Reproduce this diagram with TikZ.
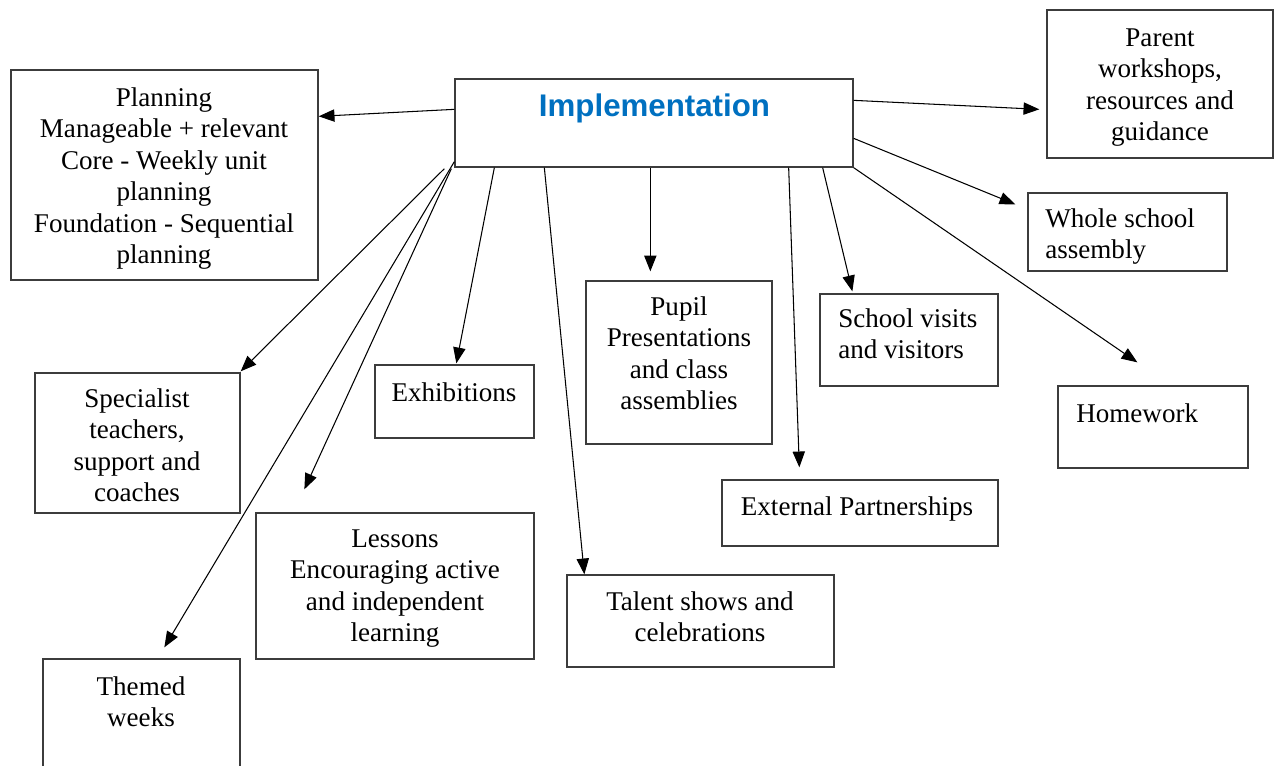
\documentclass[tikz,border=0pt]{standalone}
\usepackage{fontspec}
\setmainfont{Liberation Serif}
\newfontfamily\headsans{Liberation Sans}
\usetikzlibrary{arrows.meta,fit,calc}
\definecolor{headblue}{RGB}{0,112,192}
\definecolor{edgegray}{RGB}{60,60,60}
\begin{document}
\begin{tikzpicture}[x=0.02cm,y=-0.02cm,
  box/.style={draw=edgegray,line width=0.75pt,inner sep=0pt},
  txt/.style={inner sep=0pt,anchor=north,align=center,font=\fontsize{15.4}{17.9}\selectfont},
  ltxt/.style={txt,anchor=north west,align=left},
  arr/.style={-{Triangle[length=9pt,width=7pt]},line width=0.6pt}]
\useasboundingbox (0,0) rectangle (1274,765);
\node[box,fit={(455,79) (853,167)}] (impl) {};
\node[box,fit={(11,70) (318,280)}] (plan) {};
\node[box,fit={(1047,10) (1273,158)}] (parent) {};
\node[box,fit={(1028,193) (1227,271)}] (whole) {};
\node[box,fit={(820,294) (998,386)}] (visits) {};
\node[box,fit={(1058,386) (1248,468)}] (home) {};
\node[box,fit={(722,480) (998,546)}] (ext) {};
\node[box,fit={(586,281) (772,444)}] (pupil) {};
\node[box,fit={(375,365) (534,438)}] (exhib) {};
\node[box,fit={(567,575) (834,667)}] (talent) {};
\node[box,fit={(256,513) (534,659)}] (lessons) {};
\node[box,fit={(35,373) (240,513)}] (spec) {};
\node[box,fit={(43,659) (240,770)}] (themed) {};

\node[anchor=base,inner sep=0pt,text=headblue,font=\headsans\bfseries\fontsize{17.8}{20}\selectfont] (impltxt) at (654.5,116) {Implementation};
\node[txt] (plantxt) at (164,84) {\strut Planning\\Manageable + relevant\\Core - Weekly unit\\planning\\Foundation - Sequential\\planning};
\node[txt] (parenttxt) at (1160,24) {\strut Parent\\workshops,\\resources and\\guidance};
\node[ltxt] (wholetxt) at (1045,205) {\strut Whole school\\assembly};
\node[ltxt] (visitstxt) at (838,305) {\strut School visits\\and visitors};
\node[ltxt] (hometxt) at (1076,400) {\strut Homework};
\node[txt] (exttxt) at (857,493) {\strut External Partnerships};
\node[txt] (pupiltxt) at (679,293) {\strut Pupil\\Presentations\\and class\\assemblies};
\node[txt] (exhibtxt) at (454,379) {\strut Exhibitions};
\node[txt] (talenttxt) at (700,588) {\strut Talent shows and\\celebrations};
\node[txt] (lessonstxt) at (395,525) {\strut Lessons\\Encouraging active\\and independent\\learning};
\node[txt] (spectxt) at (137,385) {\strut Specialist\\teachers,\\support and\\coaches};
\node[txt] (themedtxt) at (141,673) {\strut Themed\\weeks};

\draw[arr] ($(impl.north west)+(0,31)$) -- ($(plan.north east)+(0,47)$);
\draw[arr] ($(impl.north east)+(0,22)$) -- ($(parent.north west)+(-7,100)$);
\draw[arr] ($(impl.north east)+(0,60)$) -- ($(whole.north west)+(-12,12)$);
\draw[arr] (impl.south east) -- ($(home.north west)+(80,-23)$);
\draw[arr] ($(impl.south east)+(-31,0)$) -- ($(visits.north west)+(33,-2)$);
\draw[arr] ($(impl.south east)+(-65,0)$) -- ($(ext.north west)+(78,-12)$);
\draw[arr] ($(impl.south west)+(196,0)$) -- ($(pupil.north west)+(65,-9)$);
\draw[arr] ($(impl.south west)+(90,0)$) -- ($(talent.north west)+(18,0)$);
\draw[arr] ($(impl.south west)+(40,0)$) -- ($(exhib.north west)+(82,-1)$);
\draw[arr] ($(impl.south west)+(-10,1)$) -- ($(spec.north east)+(0,-1)$);
\draw[arr] ($(impl.south west)+(-3,1)$) -- ($(lessons.north west)+(49,-23)$);
\draw[arr] ($(impl.south west)+(0,-6)$) -- ($(themed.north west)+(122,-11)$);
\end{tikzpicture}
\end{document}
